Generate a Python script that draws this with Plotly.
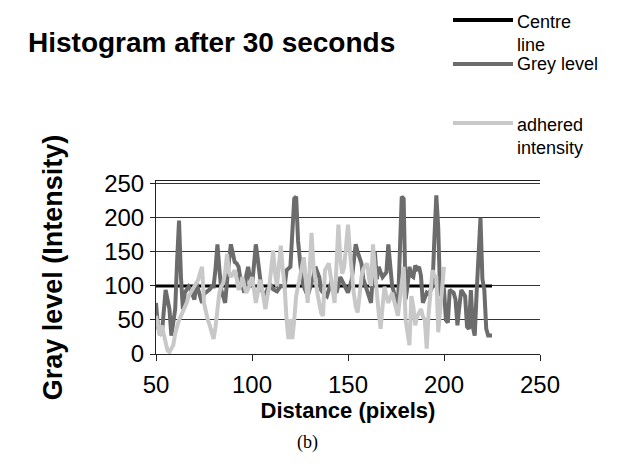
import plotly.graph_objects as go

# ---- data ----
centre_x = [50, 225]
centre_y = [100, 100]

grey_x = [50, 51, 52, 53, 55, 56, 57, 58, 60, 61, 62, 63, 64, 65, 66, 67, 68, 70, 71, 72,
          74, 75, 76, 78, 79, 80, 81, 82, 83, 84, 86, 87, 88, 89, 90, 91, 92, 93, 94, 96,
          97, 98, 99, 100, 101, 102, 103, 104, 105, 107, 108, 110, 111, 113, 115, 117, 118, 120, 121, 122,
          123, 124, 125, 126, 127, 129, 131, 132, 133, 135, 136, 137, 139, 141, 142, 144, 146, 148, 150, 152,
          153, 154, 155, 157, 158, 160, 162, 163, 164, 165, 166, 167, 168, 170, 171, 172, 173, 174, 176, 177,
          178, 179, 180, 181, 182, 183, 184, 185, 186, 187, 188, 189, 190, 191, 192, 194, 195, 196, 197, 198,
          199, 200, 201, 202, 203, 205, 206, 207, 208, 209, 211, 212, 213, 214, 215, 216, 217, 218, 219, 220,
          221, 222, 223, 224, 225]
grey_y = [75, 40, 30, 28, 94, 80, 66, 27, 66, 137, 196, 113, 66, 90, 94, 99, 95, 80, 104, 95,
          75, 88, 90, 95, 99, 99, 125, 161, 125, 94, 75, 110, 137, 161, 150, 135, 133, 128, 110, 90,
          115, 128, 110, 100, 130, 161, 140, 113, 94, 85, 95, 100, 95, 92, 100, 99, 123, 128, 170, 228,
          231, 166, 137, 110, 99, 85, 105, 113, 128, 113, 94, 90, 85, 103, 100, 90, 113, 100, 90, 110,
          132, 161, 150, 133, 110, 90, 75, 120, 150, 110, 128, 120, 113, 120, 161, 130, 100, 90, 66, 150,
          231, 228, 80, 100, 128, 115, 113, 130, 125, 128, 115, 75, 85, 90, 88, 99, 170, 233, 185, 85,
          100, 95, 50, 46, 94, 90, 80, 42, 70, 94, 85, 40, 37, 94, 40, 27, 90, 150, 200, 110,
          94, 37, 27, 27, 27]

adh_x = list(range(50, 139)) + [140, 141, 142, 143, 144, 145, 146, 147, 148, 149, 150, 151, 152, 153,
                                154, 155, 156, 157, 158, 160, 161, 162, 163, 164, 165, 166, 167, 168,
                                169, 170, 171, 173, 174, 176, 177, 178, 179, 180, 181, 182, 183, 184,
                                185, 186, 188, 189, 190, 191, 192, 193, 194, 195, 196, 197, 198, 199, 200]
adh_y = [56, 40, 27, 42, 30, 13, 5, 3, 8, 13, 30, 42, 50, 56, 62, 66, 75, 85, 90, 94,
         100, 105, 109, 120, 128, 75, 60, 50, 42, 30, 22, 40, 66, 90, 99, 104, 120, 147, 120, 113,
         118, 123, 110, 94, 100, 113, 100, 90, 95, 105, 113, 95, 75, 90, 109, 100, 80, 66, 85, 99,
         125, 152, 120, 99, 130, 159, 125, 99, 50, 22, 51, 22, 50, 85, 100, 113, 125, 142, 110, 75,
         120, 178, 130, 104, 90, 75, 60, 56, 123,
         133, 110, 99, 75, 130, 190, 140, 118, 128, 160, 190, 150, 113, 90,
         70, 61, 85, 113, 125, 133, 110, 100, 161, 120, 90, 60, 37, 70,
         99, 85, 75, 90, 80, 56, 80, 110, 128, 50, 30, 13, 85, 70,
         42, 55, 66, 55, 50, 8, 60, 90, 123, 115, 113, 32, 60, 90, 128]

x_ticks = [50, 100, 150, 200, 250]
y_ticks = [0, 50, 100, 150, 200, 250]

series_names = ["Centre line", "Grey level", "adhered intensity"]
legend_labels = ["Centre<br>line", "Grey level", "adhered<br>intensity"]
colors = ["#000000", "#6c6c6c", "#c8c8c8"]

FONT = "Liberation Sans, Arial, sans-serif"

fig = go.Figure()
fig.add_trace(go.Scatter(x=centre_x, y=centre_y, mode="lines", name=series_names[0],
                         line=dict(color=colors[0], width=3)))
fig.add_trace(go.Scatter(x=grey_x, y=grey_y, mode="lines", name=series_names[1],
                         line=dict(color=colors[1], width=4)))
fig.add_trace(go.Scatter(x=adh_x, y=adh_y, mode="lines", name=series_names[2],
                         line=dict(color=colors[2], width=4)))

W, H = 620, 467
L, R, T, B = 148, 88, 173, 121
PW, PH = W - L - R, H - T - B


def px(xp):
    return (xp - L) / PW


def py(yp):
    return (H - B - yp) / PH


fig.update_layout(
    width=W, height=H,
    margin=dict(l=L, r=R, t=T, b=B),
    paper_bgcolor="white", plot_bgcolor="white",
    showlegend=False,
    font=dict(family=FONT, color="black"),
    title=dict(text="<b>Histogram after 30 seconds</b>", font=dict(size=28, family=FONT),
               xref="container", yref="container", x=20 / W, xanchor="left",
               y=1 - 34 / H, yanchor="middle"),
)

fig.update_xaxes(range=[50, 250], tickvals=x_ticks, ticktext=[str(v) for v in x_ticks],
                 showgrid=False, zeroline=False, showline=True, linecolor="#222", linewidth=1,
                 mirror=True, ticks="outside", ticklen=6, tickcolor="#222",
                 tickfont=dict(size=24), ticklabelstandoff=3,
                 title=dict(text="<b>Distance (pixels)</b>", font=dict(size=22), standoff=3))
fig.update_yaxes(range=[0, 254], tickvals=y_ticks, ticktext=[str(v) for v in y_ticks],
                 showgrid=True, gridcolor="#333", gridwidth=1, zeroline=False,
                 showline=True, linecolor="#222", linewidth=1,
                 ticks="outside", ticklen=5, tickcolor="#222",
                 tickfont=dict(size=24), ticklabelstandoff=1,
                 title=dict(text="<b>Gray level (Intensity)</b>", font=dict(size=27), standoff=33))

# manual legend (Excel-style, long line samples)
leg_line_y = [12, 56, 115]
leg_text_mid = [25, 56, 128]
for i in range(3):
    fig.add_shape(type="line", xref="paper", yref="paper",
                  x0=px(445), x1=px(505), y0=py(leg_line_y[i]), y1=py(leg_line_y[i]),
                  line=dict(color=colors[i], width=4))
    fig.add_annotation(text=legend_labels[i], xref="paper", yref="paper",
                       x=px(508), y=py(leg_text_mid[i]), borderpad=0,
                       xanchor="left", yanchor="middle", align="left", showarrow=False,
                       font=dict(size=18, family=FONT, color="black"))

fig.add_annotation(text="(b)", xref="paper", yref="paper",
                   x=px(299), y=py(434),
                   xanchor="center", yanchor="middle", showarrow=False,
                   font=dict(size=18, family="Liberation Serif, Times New Roman, serif", color="black"))

fig.write_html("out.html")
